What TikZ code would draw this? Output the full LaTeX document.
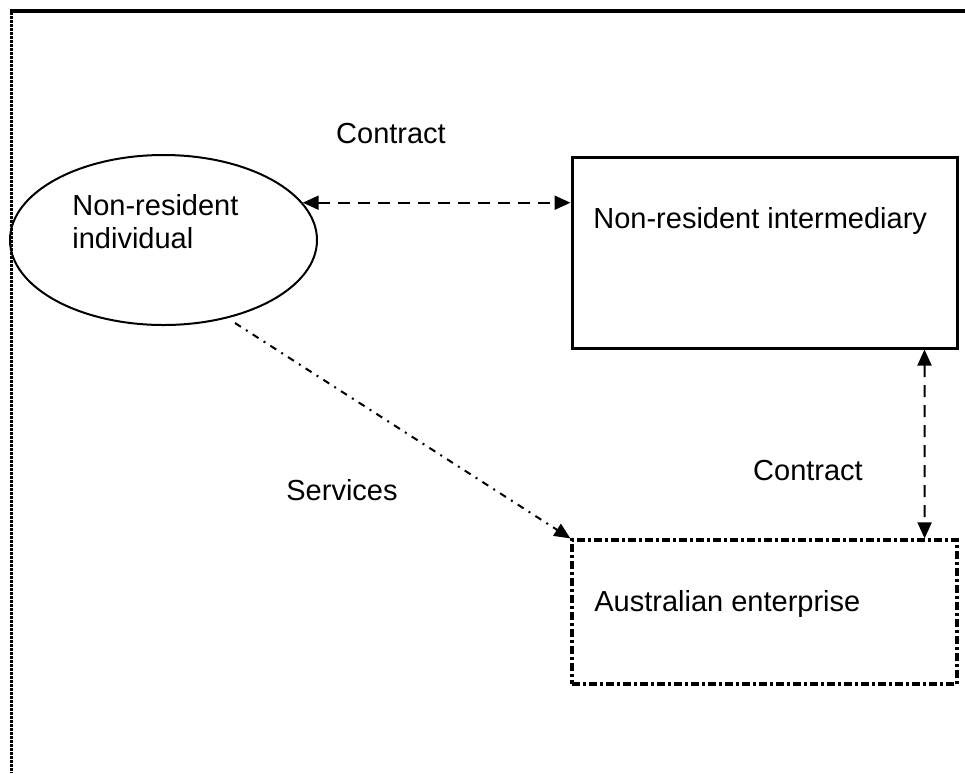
\documentclass[tikz,border=0pt]{standalone}
\usepackage{fontspec}
\setmainfont{Liberation Sans}
\usetikzlibrary{shapes.geometric,arrows.meta,calc}

\tikzset{
    lbl/.style={font=\fontsize{14.5}{16.5}\selectfont, inner sep=0pt},
    contract/.style={line width=1pt, dash pattern=on 6pt off 4pt,
        {Triangle[length=8pt,width=7pt]}-{Triangle[length=8pt,width=7pt]}},
    services/.style={line width=1pt, dash pattern=on 3.5pt off 3pt on 1pt off 3pt,
        -{Triangle[length=8pt,width=7pt]}},
}

\begin{document}
\begin{tikzpicture}[x=0.5pt,y=-0.5pt]
        \useasboundingbox (0,0) rectangle (965,773);

        % Cornice
        \draw[line width=2pt] (10,11) -- (965,11);
        \draw[line width=1.5pt, dash pattern=on 1.5pt off 0.5pt] (11,12) -- (11,773);

        % Nodi
        \node[draw, ellipse, line width=1pt, minimum width=153.5pt, minimum height=85pt, inner sep=0pt] (indiv) at (163.5,240) {};
        \node[lbl, anchor=north west, align=left] (indivtxt) at (72,194) {Non-resident\\individual};

        \node[draw, line width=1.5pt, minimum width=192.5pt, minimum height=95.5pt, inner sep=0pt] (nrint) at (764.5,252.5) {};
        \node[lbl, anchor=base west] (nrinttxt) at (593,228) {Non-resident intermediary};

        \node[draw, line width=1.6pt, dash pattern=on 4pt off 1.5pt on 1.5pt off 1.5pt, minimum width=192.5pt, minimum height=72pt, inner sep=0pt] (ae) at (764.5,612) {};
        \node[lbl, anchor=base west] (aetxt) at (594,611) {Australian enterprise};

        % Etichette
        \node[lbl, anchor=base] (contract1) at (391,143) {Contract};
        \node[lbl, anchor=base] (contract2) at (808,480) {Contract};
        \node[lbl, anchor=base] (services) at (342,500) {Services};

        % Collegamenti
        \draw[contract] (indiv.15) -- (indiv.15 -| nrint.west);
        \draw[contract] ($(nrint.south east)+(-34,0)$) -- ($(ae.north east)+(-34,0)$);
        \coordinate (svcstart) at (235,323);
        \draw[services] (svcstart) -- (ae.north west);
    \end{tikzpicture}
\end{document}
